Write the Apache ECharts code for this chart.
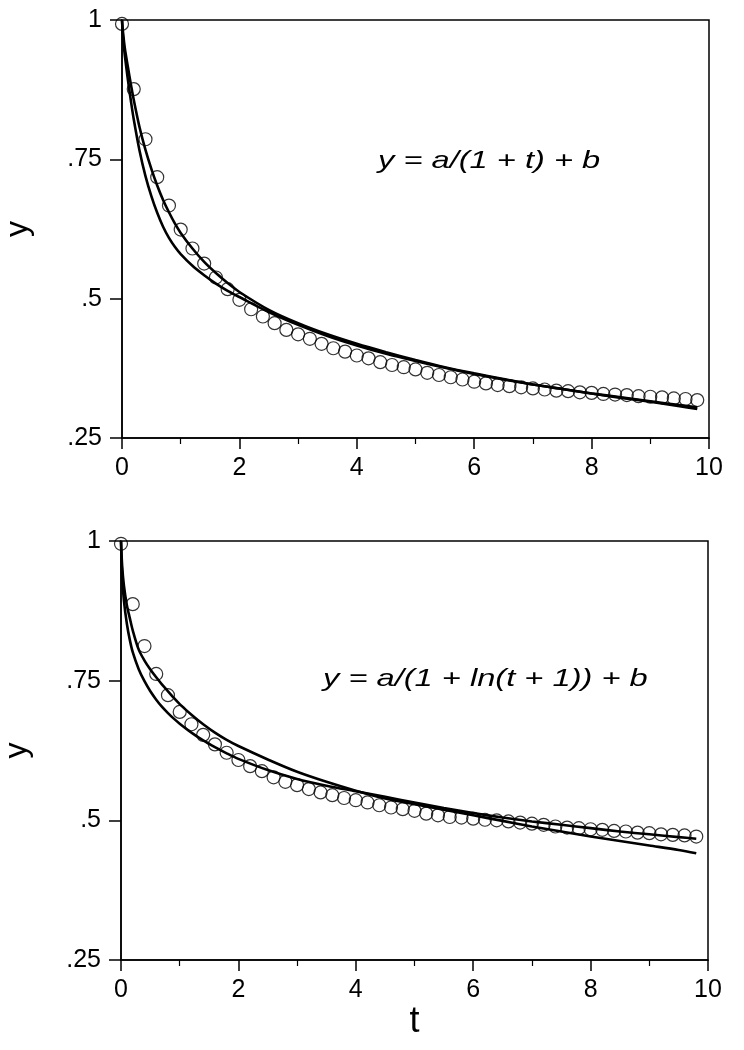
<!DOCTYPE html>
<html>
<head>
<meta charset="utf-8">
<script src="https://cdn.jsdelivr.net/npm/echarts@6/dist/echarts.min.js"></script>
<style>
  html, body { margin: 0; padding: 0; background: #fff; }
  #chart { width: 744px; height: 1050px; }
</style>
</head>
<body>
<div id="chart"></div>
<script>
// observed points, t = 0 .. 9.8 step .2
var obsT = [0, 0.2, 0.4, 0.6, 0.8, 1.0, 1.2, 1.4, 1.6, 1.8,
    2.0, 2.2, 2.4, 2.6, 2.8, 3.0, 3.2, 3.4, 3.6, 3.8,
    4.0, 4.2, 4.4, 4.6, 4.8, 5.0, 5.2, 5.4, 5.6, 5.8,
    6.0, 6.2, 6.4, 6.6, 6.8, 7.0, 7.2, 7.4, 7.6, 7.8,
    8.0, 8.2, 8.4, 8.6, 8.8, 9.0, 9.2, 9.4, 9.6, 9.8];

var topObs = [0.993, 0.876, 0.786, 0.718, 0.667, 0.624, 0.590, 0.563, 0.538, 0.517,
    0.498, 0.481, 0.468, 0.456, 0.444, 0.436, 0.428, 0.419, 0.411, 0.405,
    0.398, 0.393, 0.386, 0.381, 0.377, 0.373, 0.367, 0.363, 0.359, 0.355,
    0.351, 0.348, 0.345, 0.343, 0.341, 0.339, 0.337, 0.335, 0.334, 0.332,
    0.331, 0.329, 0.328, 0.327, 0.325, 0.324, 0.323, 0.321, 0.320, 0.318];

var bottomObs = [0.995, 0.887, 0.812, 0.762, 0.724, 0.694, 0.672, 0.653, 0.636, 0.621,
    0.608, 0.597, 0.588, 0.577, 0.569, 0.563, 0.556, 0.550, 0.545, 0.540,
    0.536, 0.532, 0.527, 0.523, 0.520, 0.517, 0.512, 0.509, 0.506, 0.505,
    0.503, 0.501, 0.500, 0.498, 0.496, 0.494, 0.492, 0.489, 0.487, 0.486,
    0.484, 0.483, 0.481, 0.480, 0.478, 0.477, 0.475, 0.474, 0.473, 0.471];

// fitted curves
var curveT = [0, 0.02, 0.05, 0.1, 0.15, 0.2, 0.3, 0.4, 0.5, 0.6,
    0.7, 0.8, 0.9, 1.0, 1.2, 1.4, 1.6, 1.8, 2.0, 2.5,
    3.0, 3.5, 4.0, 4.5, 5.0, 5.5, 6.0, 6.5, 7.0, 7.5,
    8.0, 8.5, 9.0, 9.5, 9.8];

var topFitA = [1.0, 0.965, 0.935, 0.893, 0.856, 0.822, 0.765, 0.72, 0.684, 0.654,
    0.629, 0.609, 0.593, 0.58, 0.559, 0.542, 0.527, 0.514, 0.503, 0.476,
    0.453, 0.433, 0.416, 0.401, 0.388, 0.376, 0.365, 0.355, 0.346, 0.338,
    0.33, 0.323, 0.316, 0.309, 0.305];
var topFitB = [1.0, 0.975, 0.948, 0.916, 0.885, 0.857, 0.807, 0.767, 0.733, 0.703,
    0.677, 0.655, 0.635, 0.618, 0.59, 0.566, 0.546, 0.528, 0.512, 0.48,
    0.456, 0.436, 0.419, 0.404, 0.39, 0.377, 0.366, 0.356, 0.346, 0.338,
    0.33, 0.322, 0.315, 0.307, 0.302];

var bottomFitA = [1.0, 0.935, 0.893, 0.852, 0.823, 0.801, 0.771, 0.749, 0.731, 0.716,
    0.703, 0.692, 0.682, 0.673, 0.657, 0.643, 0.631, 0.62, 0.61, 0.59,
    0.574, 0.562, 0.552, 0.542, 0.532, 0.522, 0.513, 0.505, 0.498, 0.492,
    0.486, 0.48, 0.475, 0.47, 0.467];
var bottomFitB = [1.0, 0.955, 0.92, 0.885, 0.862, 0.84, 0.806, 0.786, 0.77, 0.756,
    0.743, 0.731, 0.719, 0.708, 0.689, 0.672, 0.657, 0.644, 0.633, 0.609,
    0.587, 0.569, 0.553, 0.539, 0.529, 0.519, 0.509, 0.499, 0.489, 0.48,
    0.471, 0.463, 0.455, 0.447, 0.441];

var yTicks = [0.25, 0.5, 0.75, 1];
var yTickLabels = ['.25', '.5', '.75', '1'];

var topEquation = 'y = a/(1 + t) + b';
var bottomEquation = 'y = a/(1 + ln(t + 1)) + b';

var FONT = '"Liberation Sans", Arial, sans-serif';

function pairs(xs, ys) {
    return xs.map(function (x, i) { return [x, ys[i]]; });
}

function xAxisFor(idx, name) {
    return {
        type: 'value',
        gridIndex: idx,
        min: 0,
        max: 10,
        interval: 2,
        name: name,
        nameLocation: 'middle',
        nameGap: 40,
        nameTextStyle: { fontSize: 36, color: '#000', fontFamily: FONT },
        axisLine: { lineStyle: { color: '#000', width: 1.5 } },
        axisTick: { length: 11, lineStyle: { color: '#000', width: 1.5 } },
        minorTick: { show: true, splitNumber: 2, length: 6, lineStyle: { color: '#000', width: 1.2 } },
        splitLine: { show: false },
        axisLabel: { fontSize: 25, color: '#000', margin: 18, fontFamily: FONT }
    };
}

function yAxisFor(idx) {
    return {
        type: 'value',
        gridIndex: idx,
        min: 0.25,
        max: 1,
        interval: 0.25,
        name: 'y',
        nameLocation: 'middle',
        nameGap: 88,
        nameRotate: 90,
        nameTextStyle: { fontSize: 32, color: '#000', fontFamily: FONT },
        axisLine: { lineStyle: { color: '#000', width: 1.5 } },
        axisTick: { length: 12, lineStyle: { color: '#000', width: 1.5 } },
        splitLine: { show: false },
        axisLabel: {
            fontSize: 25, color: '#000', margin: 20, fontFamily: FONT,
            formatter: function (v) {
                var i = yTicks.indexOf(v);
                return i >= 0 ? yTickLabels[i] : '';
            }
        }
    };
}

function fitLine(idx, data) {
    return {
        type: 'line',
        xAxisIndex: idx,
        yAxisIndex: idx,
        data: data,
        symbol: 'none',
        smooth: 0.3,
        lineStyle: { color: '#000', width: 2.6 },
        z: 2
    };
}

function obsScatter(idx, data) {
    return {
        type: 'scatter',
        xAxisIndex: idx,
        yAxisIndex: idx,
        data: data,
        symbol: 'circle',
        symbolSize: 13,
        itemStyle: { color: 'rgba(0,0,0,0)', borderColor: '#000', borderWidth: 1.2 },
        z: 3
    };
}

// equation text; the original type is wider than Arial, so stretch it
function equation(x, y, text) {
    return {
        type: 'text',
        x: x,
        y: y,
        scaleX: 1.36,
        style: {
            x: 0, y: 0, text: text,
            font: 'italic 24px ' + FONT, fill: '#000', textVerticalAlign: 'middle'
        }
    };
}

var chart = echarts.init(document.getElementById('chart'), null, { renderer: 'canvas' });

var option = {
    backgroundColor: '#fff',
    animation: false,
    grid: [
        {
            left: 122, top: 20, width: 587, height: 418, outerBoundsMode: 'none',
            show: true, borderColor: '#000', borderWidth: 1.5
        },
        {
            left: 121, top: 541, width: 587, height: 419, outerBoundsMode: 'none',
            show: true, borderColor: '#000', borderWidth: 1.5
        }
    ],
    xAxis: [xAxisFor(0, ''), xAxisFor(1, 't')],
    yAxis: [yAxisFor(0), yAxisFor(1)],
    graphic: [
        equation(378, 161, topEquation),
        equation(323, 679, bottomEquation)
    ],
    series: [
        fitLine(0, pairs(curveT, topFitA)),
        fitLine(0, pairs(curveT, topFitB)),
        obsScatter(0, pairs(obsT, topObs)),
        fitLine(1, pairs(curveT, bottomFitA)),
        fitLine(1, pairs(curveT, bottomFitB)),
        obsScatter(1, pairs(obsT, bottomObs))
    ]
};

chart.setOption(option);
</script>
</body>
</html>
